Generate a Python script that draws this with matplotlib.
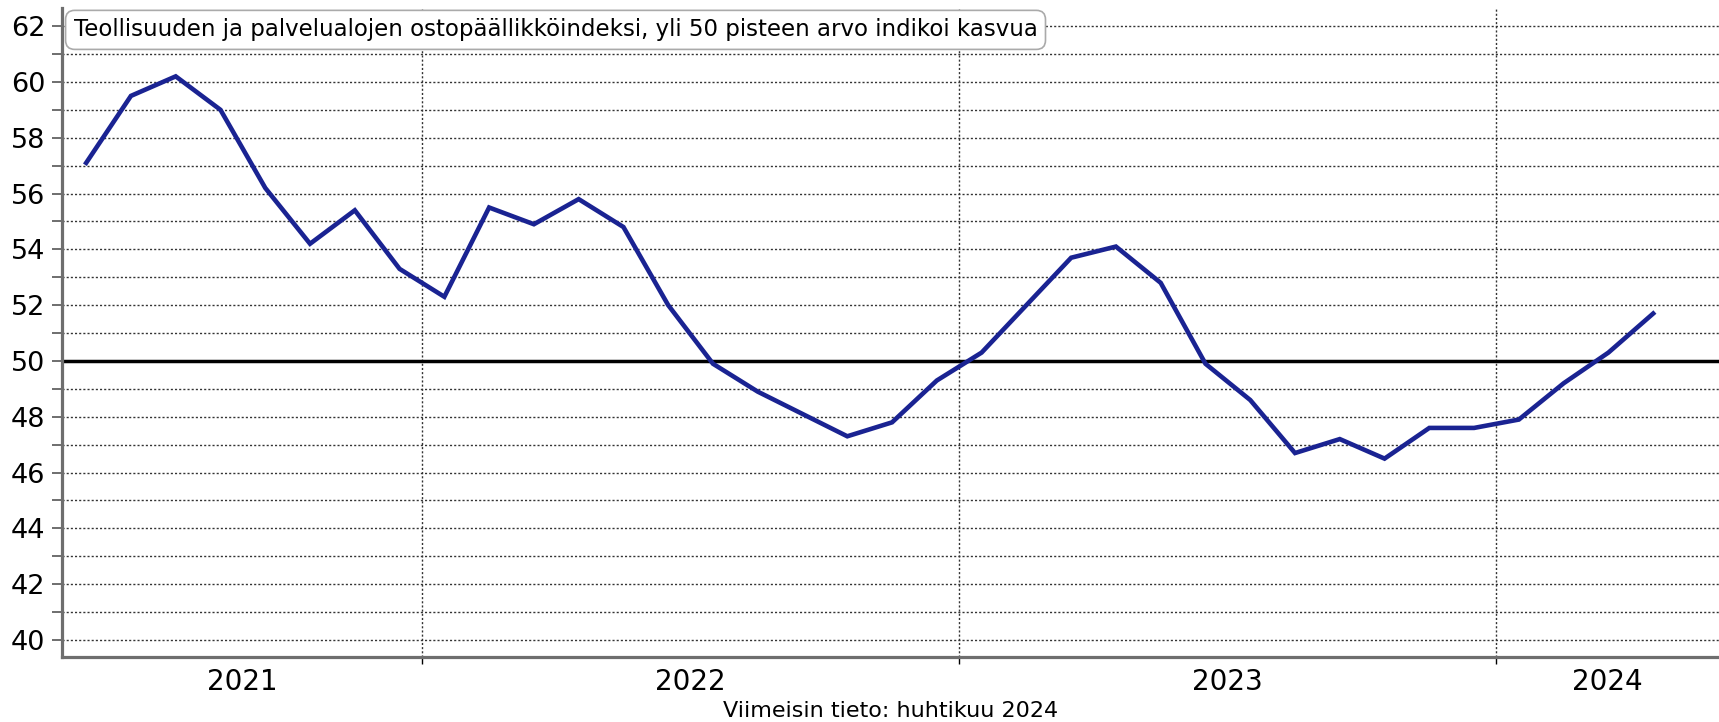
import numpy as np
import matplotlib.pyplot as plt
from matplotlib.ticker import FixedLocator, NullFormatter, FixedFormatter

# Kuukausiarvot toukokuu 2021 - huhtikuu 2024
values = [57.1, 59.5, 60.2, 59.0, 56.2, 54.2, 55.4, 53.3,
          52.3, 55.5, 54.9, 55.8, 54.8, 52.0, 49.9, 48.9, 48.1, 47.3, 47.8, 49.3,
          50.3, 52.0, 53.7, 54.1, 52.8, 49.9, 48.6, 46.7, 47.2, 46.5, 47.6, 47.6,
          47.9, 49.2, 50.3, 51.7]
years = ["2021", "2022", "2023", "2024"]
months_first_year = 8  # touko-joulu 2021

title = "Teollisuuden ja palvelualojen ostopäällikköindeksi, yli 50 pisteen arvo indikoi kasvua"
footer = "Viimeisin tieto: huhtikuu 2024"

x = np.arange(len(values))
xmin, xmax = -0.54, len(values) - 1 + 1.47
bounds = [months_first_year - 0.5 + 12 * i for i in range(3)]
edges = [xmin] + bounds + [xmax]
mids = [(edges[i] + edges[i + 1]) / 2 for i in range(len(years))]

fig = plt.figure(figsize=(17.19, 7.22), dpi=100)
ax = fig.add_axes([62 / 1719, 65 / 722, 1 - 62 / 1719, (657 - 8) / 722])

ax.set_xlim(xmin, xmax)
ax.set_ylim(39.39, 62.65)

# ruudukko
for yv in range(40, 63):
    ax.axhline(yv, color="#333333", lw=1.0, ls=(0, (1.5, 1.5)), zorder=1)
for b in bounds:
    ax.axvline(b, color="#333333", lw=1.0, ls=(0, (1.5, 1.5)), zorder=1)

ax.axhline(50, color="black", lw=2.5, zorder=2)
ax.plot(x, values, color="#1a2392", lw=3.3, zorder=3, solid_joinstyle="miter")

ax.set_yticks(range(40, 63, 2))
ax.set_yticks(range(41, 63, 2), minor=True)
ax.tick_params(axis="y", which="both", length=7, width=1.2, color="#555555",
               labelsize=19.5, pad=5)

ax.xaxis.set_major_locator(FixedLocator(bounds))
ax.xaxis.set_major_formatter(NullFormatter())
ax.xaxis.set_minor_locator(FixedLocator(mids))
ax.xaxis.set_minor_formatter(FixedFormatter(years))
ax.tick_params(axis="x", which="major", length=5, width=1, color="black")
ax.tick_params(axis="x", which="minor", length=0, labelsize=20, pad=8)

for s in ["top", "right"]:
    ax.spines[s].set_visible(False)
for s in ["left", "bottom"]:
    ax.spines[s].set_color("#6e6e6e")
    ax.spines[s].set_linewidth(2.3)

ax.text(0.007, 0.984, title, transform=ax.transAxes, fontsize=16.5,
        va="top", ha="left", zorder=5,
        bbox=dict(boxstyle="round,pad=0.35,rounding_size=0.4", fc="white",
                  ec="#aaaaaa", lw=1.2))

fig.text((62 + 1719) / 2 / 1719, 1 / 722, footer, ha="center", va="bottom", fontsize=16)

fig.savefig("out.png", dpi=100)
